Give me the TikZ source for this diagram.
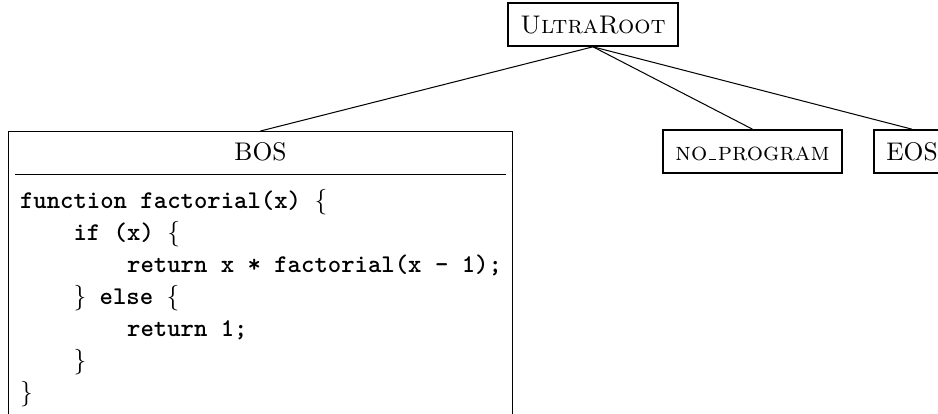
\documentclass[tikz,border=0pt]{standalone}
\usepackage{array}
\newcommand{\lowbar}{\leavevmode\kern.06em\vbox{\hrule width.3em}\kern.06em}
\begin{document}
\begin{tikzpicture}[x=0.39216pt,y=-0.39216pt,
  leaf/.style={draw, line width=0.6pt, inner xsep=2pt, inner ysep=0pt,
    minimum height=16.9pt, text height=6.83pt, text depth=0pt, font=\normalfont},
  codebox/.style={draw, line width=0.4pt, inner sep=2.75pt, anchor=north},
  edge/.style={line width=0.4pt}]
\useasboundingbox (0,0) rectangle (938,414);
\clip (0,0) rectangle (938,414);
\node[leaf, minimum width=66.7pt] (root) at (593,24.5) {\textsc{UltraRoot}};
\node[leaf, minimum width=70.2pt] (noprog) at (752.5,151.5) {\textsc{no\lowbar program}};
\node[leaf, minimum width=29.8pt] (eos) at (912,151.5) {EOS};
\node[codebox] (bos) at (260.5,131) {%
  \setlength\tabcolsep{0pt}\renewcommand\arraystretch{1.046}\setlength\arrayrulewidth{0.6pt}%
  \begin{tabular}{@{\hspace{1.96pt}}>{\ttfamily\bfseries}l@{\hspace{1.57pt}}}
  \multicolumn{1}{c}{BOS}\\[1.2pt]
  \hline\noalign{\vskip 4.2pt}
  function factorial(x) $\{$\\
  \phantom{xxxx}if (x) $\{$\\
  \phantom{xxxxxxxx}return x * factorial(x - 1);\\
  \phantom{xxxx}$\}$ else $\{$\\
  \phantom{xxxxxxxx}return 1;\\
  \phantom{xxxx}$\}$\\
  $\}$
  \end{tabular}};
\draw[edge] (root.south) -- (bos.north);
\draw[edge] (root.south) -- (noprog.north);
\draw[edge] (root.south) -- (eos.north);
\end{tikzpicture}
\end{document}
